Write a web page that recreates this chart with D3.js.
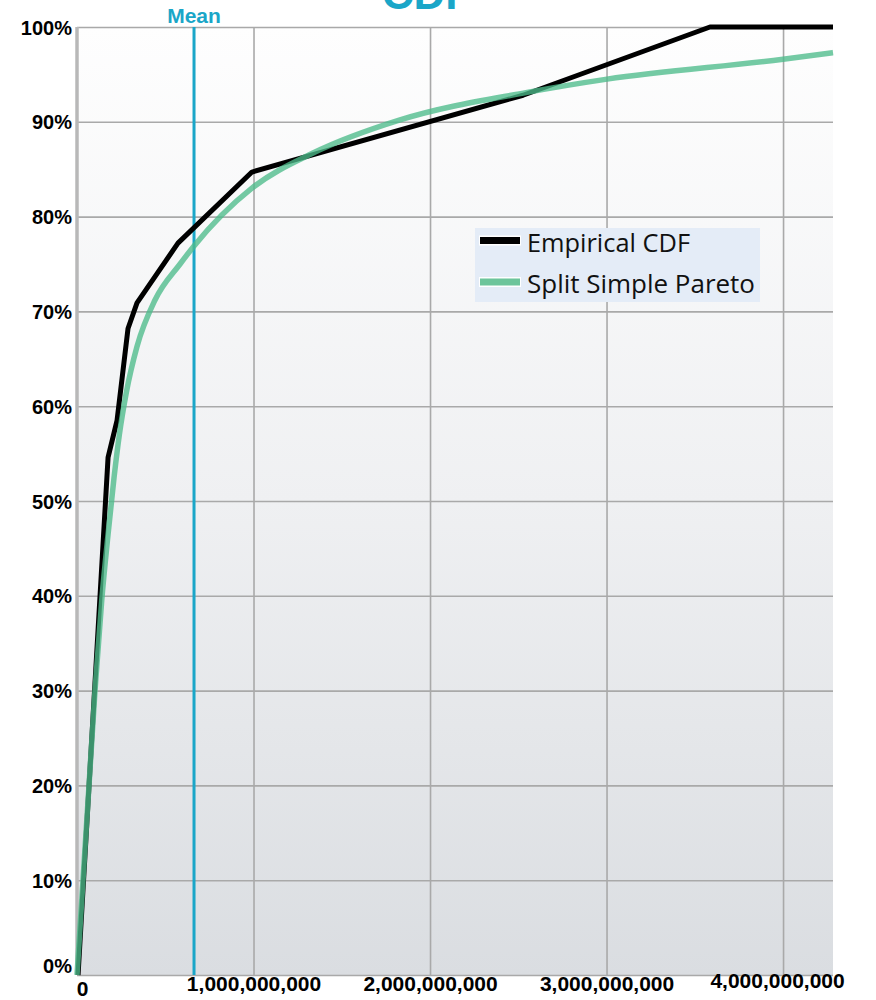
<!DOCTYPE html>
<html>
<head>
<meta charset="utf-8">
<script src="https://cdn.jsdelivr.net/npm/d3@7/dist/d3.min.js"></script>
<style>
  body { margin: 0; background: #fff; }
  svg { display: block; }
  .tick text { font-family: "Liberation Sans", Arial, sans-serif; font-weight: bold; fill: #000; }
</style>
</head>
<body>
<svg id="chart" width="876" height="1000"></svg>
<script>
// Empirical CDF (x in dollars, y in percent)
const empiricalX = [0.006e9, 0.176e9, 0.227e9, 0.289e9, 0.340e9, 0.572e9, 0.991e9, 2.527e9, 3.586e9, 4.283e9];
const empiricalY = [0, 54.6, 58.5, 68.2, 70.9, 77.2, 84.7, 92.8, 100, 100];

// Split Simple Pareto fit
const fitX = [0, 0.034e9, 0.068e9, 0.102e9, 0.140e9, 0.176e9, 0.210e9, 0.240e9, 0.280e9, 0.340e9,
              0.442e9, 0.584e9, 0.663e9, 0.991e9, 1.337e9, 1.830e9, 2.550e9, 3.003e9, 4.000e9, 4.283e9];
const fitY = [0, 10, 20, 30, 39.5, 46.5, 52.5, 57.0, 61.5, 66.3,
              71.2, 75.0, 76.9, 83.0, 86.7, 90.2, 93.1, 94.5, 96.6, 97.3];

const meanValue = 0.663e9;
const xTicks = [0, 1e9, 2e9, 3e9, 4e9];
const yTicks = [0, 10, 20, 30, 40, 50, 60, 70, 80, 90, 100];
const seriesNames = ["Empirical CDF", "Split Simple Pareto"];
const titleText = "CDF";

const margin = {top: 27, right: 43, bottom: 25, left: 77};
const width = 876 - margin.left - margin.right;
const height = 1000 - margin.top - margin.bottom;

const svg = d3.select("#chart");

const defs = svg.append("defs");
const grad = defs.append("linearGradient")
  .attr("id", "bg").attr("x1", 0).attr("y1", 0).attr("x2", 0).attr("y2", 1);
grad.append("stop").attr("offset", "0%").attr("stop-color", "#fefefe");
grad.append("stop").attr("offset", "50%").attr("stop-color", "#eff0f2");
grad.append("stop").attr("offset", "100%").attr("stop-color", "#dadde1");

// title (cut off at top, as in the original)
svg.append("text")
  .attr("x", 427).attr("y", 9)
  .attr("text-anchor", "middle")
  .style("font-family", "Liberation Sans, Arial, sans-serif")
  .style("font-weight", "bold")
  .style("font-size", "44px")
  .style("fill", "#1aa6c8")
  .text(titleText);

const g = svg.append("g").attr("transform", `translate(${margin.left},${margin.top})`);

const x = d3.scaleLinear().domain([0, 4.283e9]).range([0, width]);
const y = d3.scaleLinear().domain([0, 100]).range([height, 0]);

g.append("rect").attr("width", width).attr("height", height).attr("fill", "url(#bg)");

// y axis + horizontal grid
const yAxis = g.append("g")
  .call(d3.axisLeft(y).tickValues(yTicks).tickSize(-width).tickPadding(5).tickFormat(d => d + "%"));
yAxis.select(".domain").remove();
yAxis.selectAll(".tick line").attr("stroke", "#a9a9a9").attr("stroke-width", 1.6);
yAxis.selectAll(".tick text").style("font-size", "20px").attr("dy", "0.35em");
yAxis.selectAll(".tick").filter(d => d === 0).select("text").attr("dy", "-0.15em");

// x axis + vertical grid
const xAxis = g.append("g")
  .call(d3.axisBottom(x).tickValues(xTicks).tickSize(height).tickPadding(0).tickFormat(d3.format(",")));
xAxis.select(".domain").remove();
xAxis.selectAll(".tick line").attr("stroke", "#a9a9a9").attr("stroke-width", 1.6)
  .attr("y1", 0).attr("y2", height);
xAxis.selectAll(".tick text").style("font-size", "21px").attr("y", height + 16).attr("dy", 0);
xAxis.selectAll(".tick").filter(d => d === 0).select("text").attr("x", 5).attr("y", height + 21);
xAxis.selectAll(".tick").filter(d => d === 4e9).select("text").attr("x", -6).attr("y", height + 13);
xAxis.selectAll(".tick").filter(d => d === 0).select("line").remove();

// left axis line
g.append("line").attr("x1", 0).attr("x2", 0).attr("y1", 0).attr("y2", height)
  .attr("stroke", "#b8b8b8").attr("stroke-width", 3.5);

// mean line
g.append("line")
  .attr("x1", x(meanValue)).attr("x2", x(meanValue))
  .attr("y1", 0).attr("y2", height)
  .attr("stroke", "#1aa6c8").attr("stroke-width", 3);
svg.append("text")
  .attr("x", margin.left + x(meanValue)).attr("y", 23)
  .attr("text-anchor", "middle")
  .style("font-family", "Liberation Sans Narrow, Liberation Sans, Arial, sans-serif")
  .style("font-weight", "bold")
  .style("font-size", "21px")
  .style("fill", "#1aa6c8")
  .text("Mean");

const line = d3.line().x(d => x(d[0])).y(d => y(d[1]));

g.append("path")
  .datum(d3.zip(empiricalX, empiricalY))
  .attr("fill", "none").attr("stroke", "#000").attr("stroke-width", 5)
  .attr("stroke-linejoin", "round")
  .attr("d", line);

g.append("path")
  .datum(d3.zip(fitX, fitY))
  .attr("fill", "none").attr("stroke", "#4dbb8a").attr("stroke-opacity", 0.78).attr("stroke-width", 5.5)
  .attr("d", line.curve(d3.curveMonotoneX));

// legend
const legend = svg.append("g");
legend.append("rect").attr("x", 475).attr("y", 228).attr("width", 285).attr("height", 74).attr("fill", "#e4ecf7");
const swatch = [
  {name: seriesNames[0], color: "#000", y: 240.5, len: 163},
  {name: seriesNames[1], color: "#6dc59b", y: 282, len: 228}
];
swatch.forEach(s => {
  legend.append("line").attr("x1", 479).attr("x2", 521).attr("y1", s.y).attr("y2", s.y)
    .attr("stroke", "#fff").attr("stroke-width", 10);
  legend.append("line").attr("x1", 480).attr("x2", 520).attr("y1", s.y).attr("y2", s.y)
    .attr("stroke", s.color).attr("stroke-width", 7);
  legend.append("text").attr("x", 527).attr("y", s.y + 11)
    .attr("textLength", s.len).attr("lengthAdjust", "spacingAndGlyphs")
    .style("font-family", "Open Sans, sans-serif").style("font-size", "25px").style("fill", "#111")
    .text(s.name);
});
</script>
</body>
</html>
